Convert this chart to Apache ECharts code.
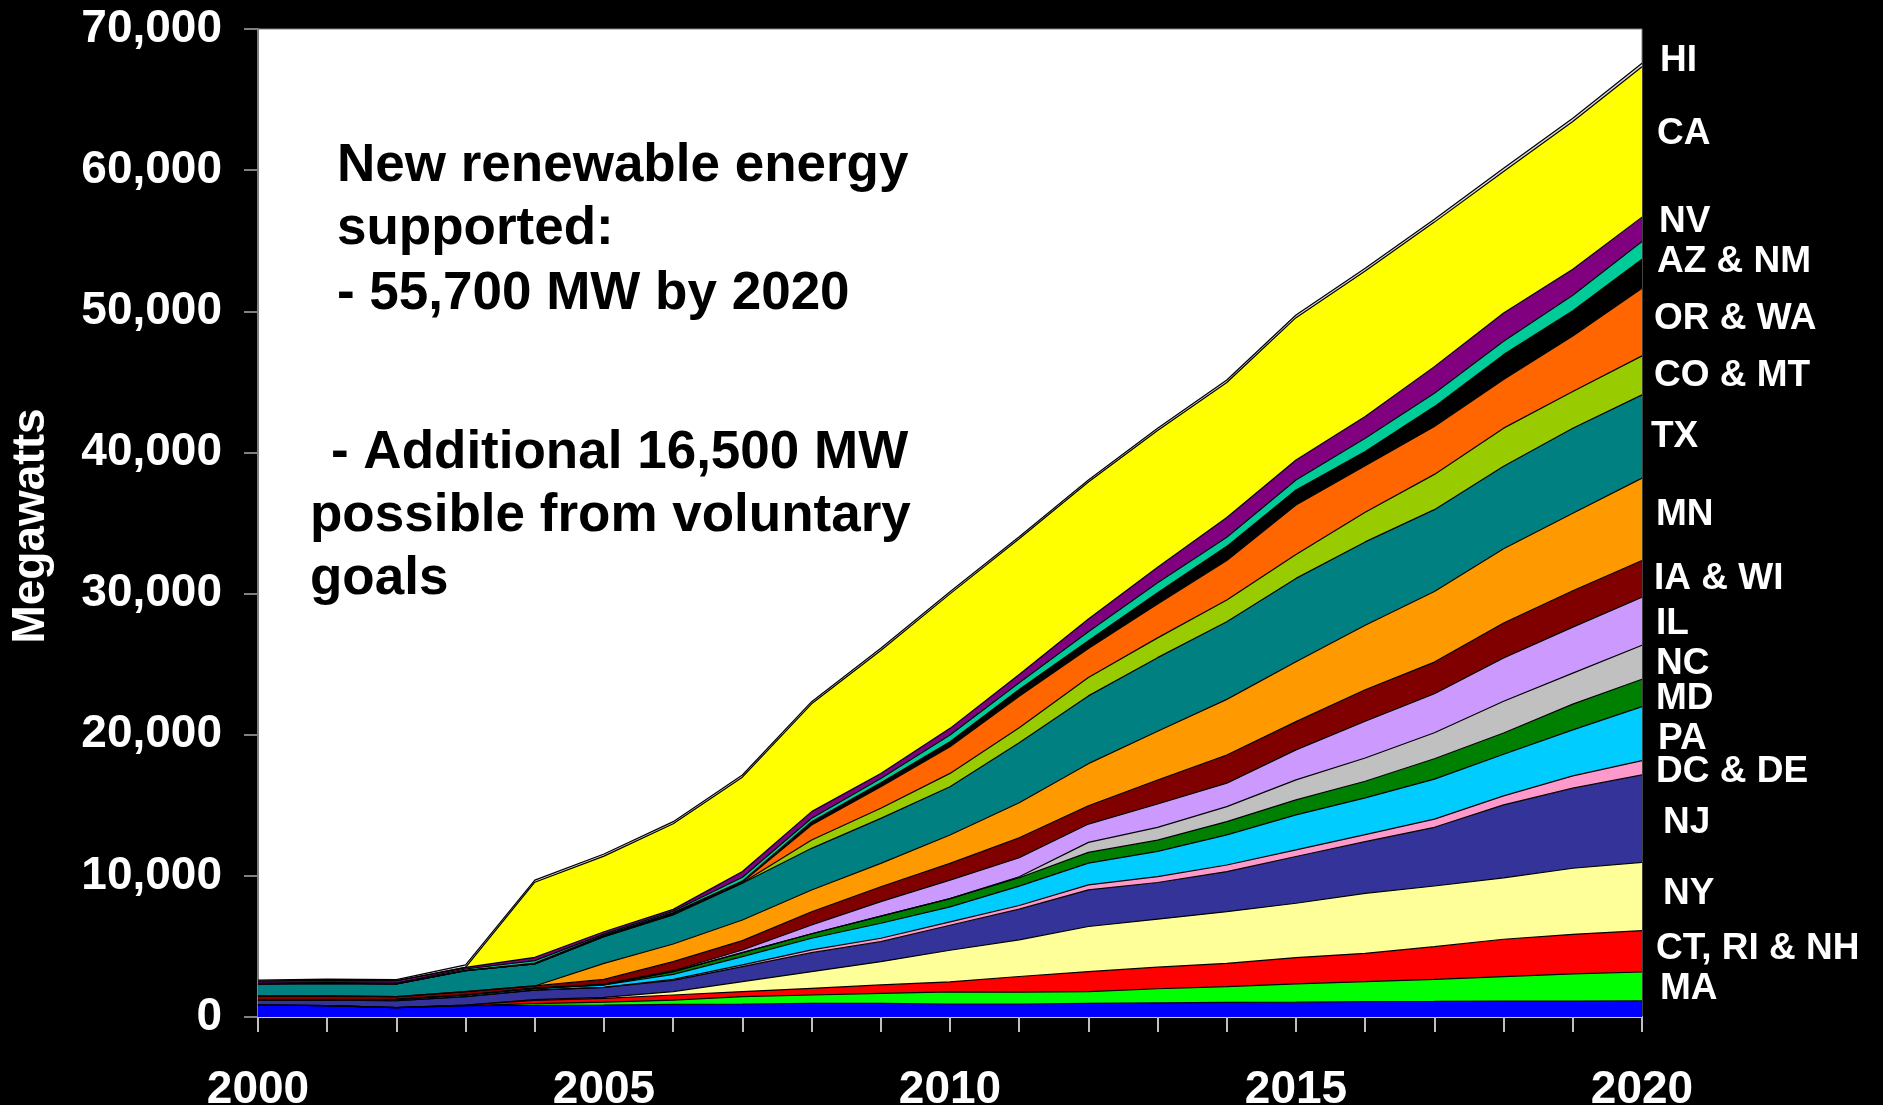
<!DOCTYPE html>
<html>
<head>
<meta charset="utf-8">
<script src="https://cdn.jsdelivr.net/npm/echarts@6/dist/echarts.min.js"></script>
<style>
html,body{margin:0;padding:0;background:#000;}
#c{width:1883px;height:1105px;}
</style>
</head>
<body>
<div id="c"></div>
<script>
const years = ['2000','2001','2002','2003','2004','2005','2006','2007','2008','2009','2010','2011','2012','2013','2014','2015','2016','2017','2018','2019','2020'];
const yTicks = [0,10000,20000,30000,40000,50000,60000,70000];

// stacked layers, bottom to top (MW)
const otherBase = [850,800,660,800,820,850,900,920,970,970,920,920,970,1000,1040,1050,1090,1100,1130,1130,1150];
const MA   = [0,0,0,0,130,210,300,520,590,710,860,840,830,1000,1110,1290,1410,1570,1730,1920,2040];
const CT_RI_NH = [0,0,0,50,230,260,360,360,470,590,710,1110,1420,1530,1650,1870,2010,2310,2650,2810,2930];
const NY   = [0,0,0,0,50,70,240,710,1180,1650,2240,2600,3190,3400,3660,3850,4250,4300,4350,4680,4840];
const NJ   = [350,400,490,590,680,710,800,1060,1350,1420,1770,2170,2600,2600,2840,3310,3660,4160,5170,5670,6190];
const DC_DE = [0,0,0,0,0,0,70,120,190,240,240,260,350,420,470,470,500,580,640,875,1010];
const PA   = [0,10,100,120,120,165,350,590,830,1060,1060,1370,1540,1790,2130,2480,2600,2830,2950,3260,3830];
const MD   = [0,0,0,0,0,30,190,280,320,510,590,600,760,790,945,1060,1180,1450,1500,1820,1940];
const NC   = [0,0,0,0,0,0,0,0,0,0,0,70,710,910,1060,1420,1650,1840,2250,2200,2410];
const IL   = [0,0,0,0,0,40,70,190,620,1020,1310,1340,1300,1650,1660,2125,2600,2765,3060,3260,3400];
const IA_WI = [300,290,190,240,170,330,640,660,940,1060,1180,1420,1300,1700,2000,2000,2240,2240,2480,2570,2600];
const MN   = [0,0,0,0,0,1130,1250,1465,1540,1655,2010,2480,2980,3450,3940,4250,4560,5000,5270,5500,5840];
const TX   = [840,885,900,1480,1555,1890,2055,2600,2950,3190,3420,4250,4800,5220,5500,5900,5910,5800,5840,6020,5900];
const CO_MT = [0,0,0,0,0,0,50,30,590,710,950,1060,1300,1400,1540,1700,2100,2500,2700,2600,2760];
const OR_WA = [0,0,0,0,0,50,50,60,1060,1530,1890,2240,2050,2400,2800,3500,3300,3400,3440,3940,4800];
const otherWest = [0,0,0,0,65,50,70,60,240,280,350,470,550,800,1000,1060,1000,1400,1770,1790,2050];
const AZ_NM = [60,45,60,120,170,90,100,280,240,310,475,475,650,700,650,710,945,945,950,1090,1250];
const NV   = [150,170,170,120,240,165,130,400,470,350,475,590,900,1100,1400,1420,1540,1890,2000,1840,1730];
const CA   = [0,0,0,0,5320,5360,6065,6690,7640,8715,9530,9615,9700,9700,9557,10083,10302,10238,10031,10469,10661];
const HI   = [70,90,80,170,150,150,150,150,150,150,150,150,150,150,180,190,200,200,220,230,240];

const layers = [
  ['Other', otherBase, '#0000FF'],
  ['MA', MA, '#00FF00'],
  ['CT, RI & NH', CT_RI_NH, '#FF0000'],
  ['NY', NY, '#FFFF99'],
  ['NJ', NJ, '#333399'],
  ['DC & DE', DC_DE, '#FF99CC'],
  ['PA', PA, '#00CCFF'],
  ['MD', MD, '#008000'],
  ['NC', NC, '#C0C0C0'],
  ['IL', IL, '#CC99FF'],
  ['IA & WI', IA_WI, '#800000'],
  ['MN', MN, '#FF9900'],
  ['TX', TX, '#008080'],
  ['CO & MT', CO_MT, '#99CC00'],
  ['OR & WA', OR_WA, '#FF6600'],
  ['Other West', otherWest, '#000000'],
  ['AZ & NM', AZ_NM, '#00CC99'],
  ['NV', NV, '#800080'],
  ['CA', CA, '#FFFF00'],
  ['HI', HI, '#D9D9D9']
];

const rightLabels = [
  ['HI', 1660, 61], ['CA', 1657, 134], ['NV', 1659, 222], ['AZ & NM', 1657, 262],
  ['OR & WA', 1654, 319], ['CO & MT', 1654, 376], ['TX', 1651, 437], ['MN', 1656, 515],
  ['IA & WI', 1654, 579], ['IL', 1656, 624], ['NC', 1656, 664], ['MD', 1656, 699],
  ['PA', 1658, 739], ['DC & DE', 1656, 772], ['NJ', 1663, 823], ['NY', 1663, 894],
  ['CT, RI & NH', 1656, 949], ['MA', 1660, 989]
];

const noteLines = [
  ['New renewable energy', 337, 166],
  ['supported:', 337, 229],
  ['- 55,700 MW by 2020', 337, 294],
  ['- Additional 16,500 MW', 331, 453],
  ['possible from voluntary', 310, 516],
  ['goals', 310, 579]
];

const FONT = '"Liberation Sans", Arial, sans-serif';
const chart = echarts.init(document.getElementById('c'), null, {renderer: 'canvas'});

const graphics = [];
rightLabels.forEach(([t, x, y]) => graphics.push({
  type: 'text', x: x, y: y, silent: true,
  style: {text: t, fill: '#fff', font: 'bold 37px ' + FONT, textAlign: 'left', textVerticalAlign: 'middle'}
}));
noteLines.forEach(([t, x, y]) => graphics.push({
  type: 'text', x: x, y: y, silent: true, z: 100,
  style: {text: t, fill: '#000', font: 'bold 53px ' + FONT, textAlign: 'left', textVerticalAlign: 'middle'}
}));
graphics.push({
  type: 'text', x: 31, y: 526, rotation: Math.PI / 2, silent: true,
  style: {text: 'Megawatts', fill: '#fff', font: 'bold 46px ' + FONT, textAlign: 'center', textVerticalAlign: 'middle'}
});

chart.setOption({
  backgroundColor: '#000',
  animation: false,
  grid: {left: 258, right: 241, top: 29, bottom: 88, containLabel: false, outerBoundsMode: 'none',
    show: true, backgroundColor: '#fff', borderColor: '#808080', borderWidth: 1},
  xAxis: {
    type: 'category', data: years, boundaryGap: false,
    axisLine: {show: true, lineStyle: {color: '#d0d0d0', width: 2}},
    axisTick: {show: true, interval: 0, length: 15, lineStyle: {color: '#c0c0c0', width: 2}},
    axisLabel: {interval: 4, color: '#fff', fontFamily: FONT, fontWeight: 'bold', fontSize: 46, margin: 50},
    splitLine: {show: false}
  },
  yAxis: {
    type: 'value', min: yTicks[0], max: yTicks[yTicks.length - 1], interval: 10000,
    axisLine: {show: true, lineStyle: {color: '#808080', width: 2}},
    axisTick: {show: true, length: 14, lineStyle: {color: '#808080', width: 2}},
    axisLabel: {color: '#fff', fontFamily: FONT, fontWeight: 'bold', fontSize: 46, margin: 36,
      formatter: v => v.toLocaleString('en-US')},
    splitLine: {show: false}
  },
  series: layers.map(([name, data, color]) => ({
    name: name, type: 'line', stack: 'total', data: data,
    symbol: 'none', silent: true,
    lineStyle: {color: '#000', width: 1.2},
    areaStyle: {color: color, opacity: 1},
    itemStyle: {color: color}
  })),
  graphic: graphics
});
</script>
</body>
</html>
